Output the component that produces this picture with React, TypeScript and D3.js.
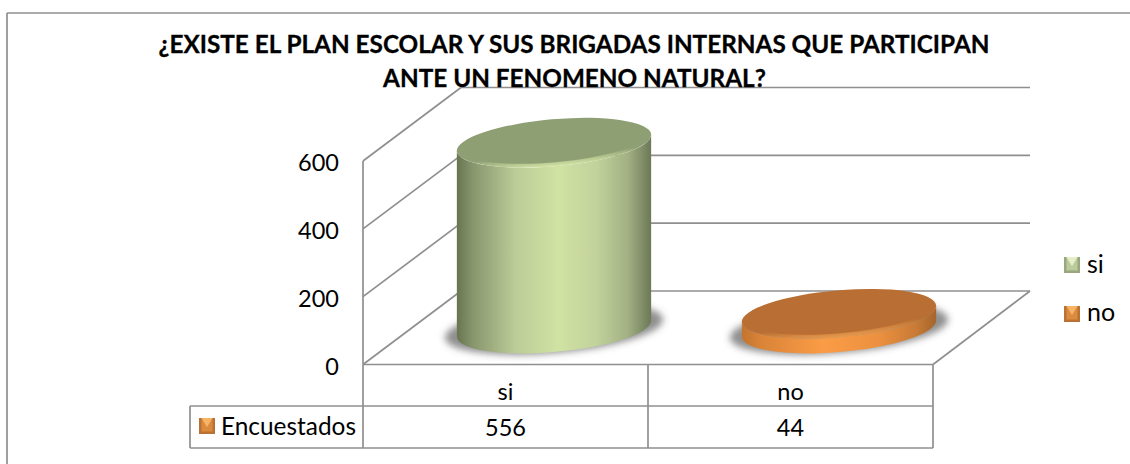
import React from "react";
import * as d3 from "d3";

const titleLines = ["¿EXISTE EL PLAN ESCOLAR Y SUS BRIGADAS INTERNAS QUE PARTICIPAN", "ANTE UN FENOMENO NATURAL?"];
const categories = ["si", "no"];
const values = [556, 44];
const seriesName = "Encuestados";
const yTicks = [0, 200, 400, 600];

const W = 1130, H = 464;
const FONT = "Lato, 'Open Sans', sans-serif";
const GRID = "#8f8f8f";
const front = { l: 363, r: 933, y0: 364.5, y600: 161 };
const depth = { dx: 98, dy: -73.5 };
const table = { left: 190, top: 365, mid: 406, bottom: 448 };
const xBand = d3.scaleBand<string>().domain(categories).range([front.l, front.r]);
const y = d3.scaleLinear().domain([0, 600]).range([front.y0, front.y600]);

const RX = 97.5, RY = 23.5, ROT = -5;
const BAR_SCALE = 0.985;
const BASE_Y = 328.5;
const palettes = [
  {
    id: "si", face: "#8f9f74", rim: "#d3e4a6",
    side: [[0, "#68744f"], [0.08, "#87956d"], [0.3, "#bccc97"], [0.52, "#d1e2a4"], [0.72, "#c2d29b"], [0.88, "#a2b083"], [1, "#6c7857"]],
  },
  {
    id: "no", face: "#b96f33", rim: "#e89a4c",
    side: [[0, "#c4742f"], [0.1, "#d98438"], [0.42, "#fb9c46"], [0.7, "#ec9140"], [0.9, "#c87a36"], [1, "#a4652d"]],
  },
];

function Marker({ x, yy, a, b, c }: { x: number; yy: number; a: string; b: string; c: string }) {
  const s = 16, e = 2.5;
  return (
    <g transform={`translate(${x},${yy})`}>
      <rect width={s} height={s} fill={c} />
      <rect x={e} y={0} width={s - 2 * e} height={s - e} fill={b} />
      <polygon points={`${e},0 ${s - e},0 ${s / 2},${s * 0.58}`} fill={a} />
    </g>
  );
}

function Cylinder({ i }: { i: number }) {
  const cat = categories[i];
  const cx = xBand(cat)! + xBand.bandwidth() / 2 + depth.dx / 2 - 0.5;
  const base = BASE_Y;
  const top = base - BAR_SCALE * (y(0) - y(values[i]));
  const p = palettes[i];
  const t = (ROT * Math.PI) / 180;
  const ext = Math.sqrt(RX * RX * Math.cos(t) ** 2 + RY * RY * Math.sin(t) ** 2);
  const off = ((RX * RX - RY * RY) * Math.sin(t) * Math.cos(t)) / ext;
  const L = cx - ext, R = cx + ext;
  const side = `M${L},${top - off} L${L},${base - off} A${RX},${RY} ${ROT} 0 0 ${R},${base + off} L${R},${top + off} A${RX},${RY} ${ROT} 0 1 ${L},${top - off} Z`;
  return (
    <g>
      <defs>
        <linearGradient id={`side-${p.id}`} gradientUnits="userSpaceOnUse" x1={L} x2={R} y1={0} y2={0}>
          {p.side.map(([o, col]) => <stop key={o as number} offset={o as number} stopColor={col as string} />)}
        </linearGradient>
        <linearGradient id={`rim-${p.id}`} x1="0" x2="0" y1="0" y2="1">
          <stop offset={0} stopColor={p.face} />
          <stop offset={0.75} stopColor={p.face} />
          <stop offset={1} stopColor={p.rim} />
        </linearGradient>
      </defs>
      <ellipse cx={cx} cy={base} rx={RX + 12} ry={RY + 1} transform={`rotate(${ROT} ${cx} ${base})`} fill="#4a4a4a" fillOpacity={0.62} filter="url(#blur)" />
      <path d={side} fill={`url(#side-${p.id})`} />
      <ellipse cx={cx} cy={top} rx={RX} ry={RY} transform={`rotate(${ROT} ${cx} ${top})`} fill={`url(#rim-${p.id})`} />
      <ellipse cx={cx - 0.5} cy={top - 1.5} rx={RX - 3} ry={RY - 2.5} transform={`rotate(${ROT} ${cx} ${top})`} fill={p.face} />
    </g>
  );
}

export default function App() {
  const ln = (x1: number, y1: number, x2: number, y2: number, k: string) => (
    <line key={k} x1={x1} y1={y1} x2={x2} y2={y2} stroke={GRID} strokeWidth={1.7} />
  );
  const colMid = (c: string) => xBand(c)! + xBand.bandwidth() / 2;
  const txt = { fontFamily: FONT, fill: "#000" } as const;
  const orange = { a: "#f7b465", b: "#db8a3e", c: "#b87234" };
  const green = { a: "#e6efca", b: "#bccb9c", c: "#98a77e" };
  return (
    <svg width={W} height={H} style={{ position: "absolute", left: 0, top: 0, background: "#fff" }}>
      <defs>
        <filter id="blur" x="-20%" y="-50%" width="140%" height="200%">
          <feGaussianBlur stdDeviation="3.5" />
        </filter>
      </defs>
      {ln(7, 13, W, 13, "ft")}
      {ln(7, 13, 7, H, "fl")}

      {yTicks.map((t) => (
        <g key={t}>
          {ln(front.l, y(t), front.l + depth.dx, y(t) + depth.dy, `d${t}`)}
          {t > 0 && ln(front.l + depth.dx, y(t) + depth.dy, front.r + depth.dx - 1, y(t) + depth.dy, `b${t}`)}
          <text x={339} y={y(t) + 10} textAnchor="end" fontSize={23.5} {...txt}>{t}</text>
        </g>
      ))}
      {ln(front.l, y(0), front.r, y(0), "f0")}
      {ln(front.l + depth.dx, y(0) + depth.dy, front.r + depth.dx - 1, y(0) + depth.dy, "b0")}
      {ln(front.r, y(0), front.r + depth.dx - 1, y(0) + depth.dy, "dr")}
      {ln(front.l, y(0), front.l, y(600), "ya")}

      {categories.map((_, i) => <Cylinder key={i} i={i} />)}

      {ln(front.l, y(0), front.l, table.bottom, "t1")}
      {ln(xBand("no")!, table.top, xBand("no")!, table.bottom, "t2")}
      {ln(front.r, table.top, front.r, table.bottom, "t3")}
      {ln(table.left, table.mid, front.r, table.mid, "t4")}
      {ln(table.left, table.bottom, front.r, table.bottom, "t5")}
      {ln(table.left, table.mid, table.left, table.bottom, "t6")}

      {categories.map((c, i) => (
        <g key={c}>
          <text x={colMid(c)} y={400} textAnchor="middle" fontSize={23.5} {...txt}>{c}</text>
          <text x={colMid(c)} y={435.5} textAnchor="middle" fontSize={23.5} {...txt}>{values[i]}</text>
        </g>
      ))}
      <Marker x={199} yy={418} {...orange} />
      <text x={221} y={435} fontSize={24.4} {...txt}>{seriesName}</text>

      <Marker x={1064} yy={257} {...green} />
      <text x={1087} y={273} fontSize={25} {...txt}>{categories[0]}</text>
      <Marker x={1064} yy={306} {...orange} />
      <text x={1087} y={321} fontSize={25} {...txt}>{categories[1]}</text>

      <text x={574} y={53} textAnchor="middle" fontSize={24.3} fontWeight={700} stroke="#000" strokeWidth={0.3} {...txt}>{titleLines[0]}</text>
      <text x={574.5} y={86.5} textAnchor="middle" fontSize={24.3} fontWeight={700} stroke="#000" strokeWidth={0.3} {...txt}>{titleLines[1]}</text>
    </svg>
  );
}
